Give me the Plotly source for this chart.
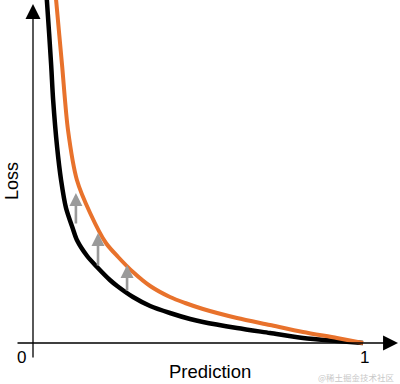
import plotly.graph_objects as go

# Black curve (base loss): prediction vs loss
black_x = [0.039, 0.042, 0.055, 0.061, 0.073, 0.085, 0.100, 0.121, 0.133, 0.164, 0.194, 0.233, 0.255, 0.303, 0.355, 0.415, 0.476, 0.515, 0.618, 0.718, 0.818, 0.921, 1.0]
black_y = [3.55, 3.43, 2.78, 2.43, 1.96, 1.63, 1.35, 1.14, 1.03, 0.87, 0.76, 0.63, 0.57, 0.46, 0.37, 0.30, 0.24, 0.21, 0.15, 0.10, 0.05, 0.02, 0.0]

# Orange curve (raised loss)
orange_x = [0.067, 0.070, 0.088, 0.106, 0.133, 0.173, 0.221, 0.258, 0.303, 0.355, 0.415, 0.461, 0.515, 0.618, 0.718, 0.818, 0.921, 1.0]
orange_y = [3.55, 3.43, 2.78, 2.13, 1.63, 1.30, 1.00, 0.86, 0.71, 0.57, 0.46, 0.40, 0.34, 0.25, 0.18, 0.11, 0.05, 0.0]

# Gray arrows: x position, tail (bottom) value, head (top) value
arrow_x = [0.130, 0.197, 0.285]
arrow_tail = [1.18, 0.76, 0.51]
arrow_head = [1.50, 1.10, 0.78]

x_tick_labels = ["0", "1"]
x_title = "Prediction"
y_title = "Loss"
watermark = "@稀土掘金技术社区"

W, H = 400, 384
X_RANGE = [-0.1, 1.112]
Y_RANGE = [-0.41, 3.43]

fig = go.Figure()
fig.add_trace(go.Scatter(x=black_x, y=black_y, mode="lines", line=dict(color="#000000", width=4.5, shape="spline", smoothing=0.8), hoverinfo="skip"))
fig.add_trace(go.Scatter(x=orange_x, y=orange_y, mode="lines", line=dict(color="#E8722C", width=4, shape="spline", smoothing=0.8), hoverinfo="skip"))

ann = []
# axes with arrowheads
ann.append(dict(x=1.106, y=0, ax=-0.0515, ay=0, xref="x", yref="y", axref="x", ayref="y", showarrow=True, arrowhead=2, arrowsize=2.3, arrowwidth=1.3, arrowcolor="#000000", text=""))
ann.append(dict(x=0, y=3.39, ax=0, ay=-0.16, xref="x", yref="y", axref="x", ayref="y", showarrow=True, arrowhead=2, arrowsize=2.3, arrowwidth=1.3, arrowcolor="#000000", text=""))
for xa, yt, yh in zip(arrow_x, arrow_tail, arrow_head):
    ann.append(dict(x=xa, y=yh, ax=xa, ay=yt, xref="x", yref="y", axref="x", ayref="y", showarrow=True, arrowhead=2, arrowsize=1.0, arrowwidth=2.6, arrowcolor="#9A9A9A", text=""))

font = "Liberation Sans, Arial, sans-serif"
def px(x, y):
    return x / W, 1 - y / H

tx, ty = px(21, 357)
ann.append(dict(x=tx, y=ty, xref="paper", yref="paper", text=x_tick_labels[0], showarrow=False, font=dict(family=font, size=17, color="#000"), xanchor="center", yanchor="middle"))
tx, ty = px(364, 357)
ann.append(dict(x=tx, y=ty, xref="paper", yref="paper", text=x_tick_labels[1], showarrow=False, font=dict(family=font, size=17, color="#000"), xanchor="center", yanchor="middle"))
tx, ty = px(210, 371)
ann.append(dict(x=tx, y=ty, xref="paper", yref="paper", text=x_title, showarrow=False, font=dict(family=font, size=18.5, color="#000"), xanchor="center", yanchor="middle"))
tx, ty = px(12, 181)
ann.append(dict(x=tx, y=ty, xref="paper", yref="paper", text=y_title, showarrow=False, textangle=-90, font=dict(family=font, size=18, color="#000"), xanchor="center", yanchor="middle"))
tx, ty = px(397, 377)
ann.append(dict(x=tx, y=ty, xref="paper", yref="paper", text=watermark, showarrow=False, font=dict(family="Noto Sans CJK SC, sans-serif", size=8.5, color="#C8C8C8"), xanchor="right", yanchor="middle"))

fig.update_layout(
    width=W, height=H,
    margin=dict(l=0, r=0, t=0, b=0),
    paper_bgcolor="white", plot_bgcolor="white",
    showlegend=False,
    xaxis=dict(range=X_RANGE, visible=False, fixedrange=True),
    yaxis=dict(range=Y_RANGE, visible=False, fixedrange=True),
    annotations=ann,
)
fig.write_html("out.html", post_script="document.body.style.margin='0px';document.body.style.overflow='hidden';", config={"displayModeBar": False})
